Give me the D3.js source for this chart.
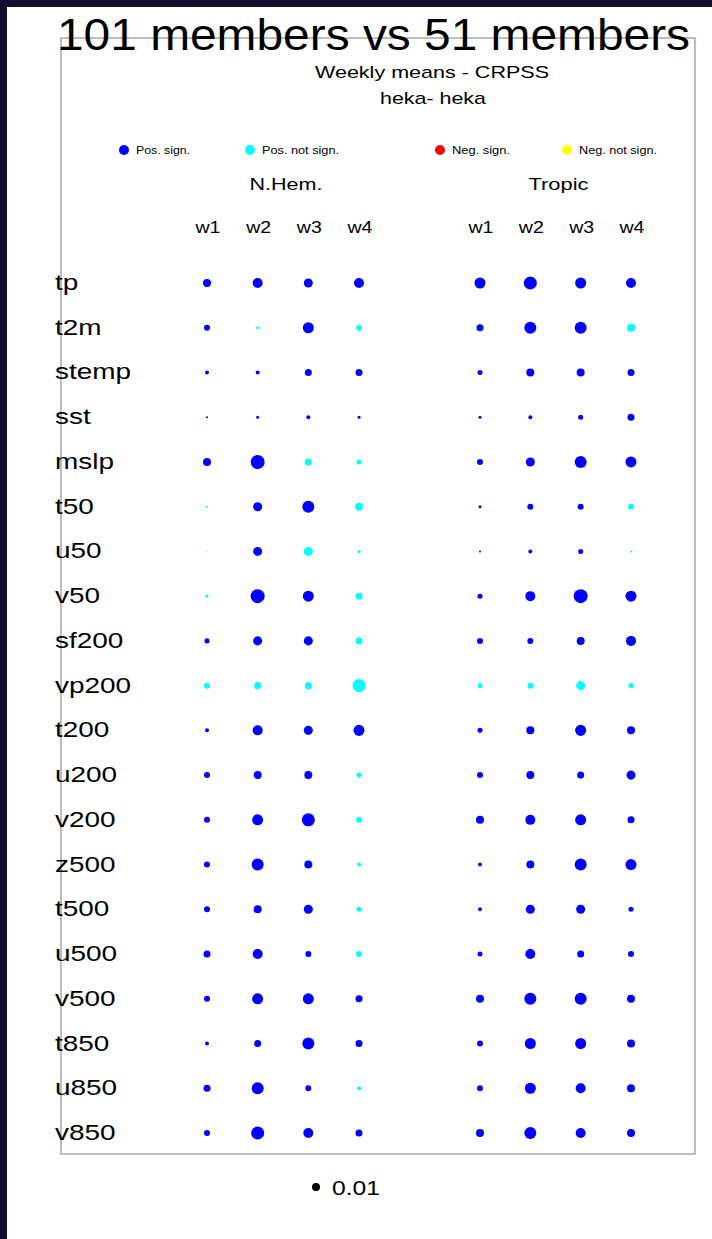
<!DOCTYPE html>
<html>
<head>
<meta charset="utf-8">
<script src="https://cdn.jsdelivr.net/npm/d3@7"></script>
<style>
html,body{margin:0;padding:0;background:#fff;}
svg{display:block;font-family:"Liberation Sans",Arial,sans-serif;}
</style>
</head>
<body>
<svg id="chart" width="712" height="1239"></svg>
<script>
// ---------- data ----------
const variables = ["tp","t2m","stemp","sst","mslp","t50","u50","v50","sf200","vp200","t200","u200","v200","z500","t500","u500","v500","t850","u850","v850"];
const weeks = ["w1","w2","w3","w4"];
const regions = ["N.Hem.","Tropic"];

// CRPSS difference (magnitude), per variable, weeks w1..w4
const nhemValues = [
  [0.0100,0.0125,0.0113,0.0125],
  [0.0075,0.0038,0.0138,0.0075],
  [0.0050,0.0050,0.0088,0.0088],
  [0.0025,0.0038,0.0050,0.0038],
  [0.0100,0.0175,0.0088,0.0063],
  [0.0025,0.0113,0.0150,0.0100],
  [0.0013,0.0113,0.0113,0.0038],
  [0.0038,0.0175,0.0138,0.0088],
  [0.0063,0.0113,0.0113,0.0088],
  [0.0075,0.0088,0.0088,0.0163],
  [0.0050,0.0125,0.0113,0.0138],
  [0.0075,0.0100,0.0100,0.0063],
  [0.0075,0.0138,0.0163,0.0075],
  [0.0075,0.0150,0.0100,0.0050],
  [0.0075,0.0100,0.0113,0.0063],
  [0.0088,0.0125,0.0075,0.0075],
  [0.0075,0.0138,0.0138,0.0088],
  [0.0050,0.0088,0.0150,0.0088],
  [0.0088,0.0150,0.0075,0.0050],
  [0.0075,0.0163,0.0125,0.0088]
];
// 1 = significant (blue), 0 = not significant (cyan)
const nhemSignif = [
  [1,1,1,1],[1,0,1,0],[1,1,1,1],[1,1,1,1],[1,1,0,0],
  [0,1,1,0],[0,1,0,0],[0,1,1,0],[1,1,1,0],[0,0,0,0],
  [1,1,1,1],[1,1,1,0],[1,1,1,0],[1,1,1,0],[1,1,1,0],
  [1,1,1,0],[1,1,1,1],[1,1,1,1],[1,1,1,0],[1,1,1,1]
];
const tropicValues = [
  [0.0138,0.0163,0.0138,0.0125],
  [0.0088,0.0150,0.0150,0.0100],
  [0.0063,0.0100,0.0100,0.0088],
  [0.0038,0.0050,0.0063,0.0088],
  [0.0075,0.0113,0.0150,0.0138],
  [0.0038,0.0075,0.0075,0.0075],
  [0.0025,0.0050,0.0063,0.0025],
  [0.0063,0.0125,0.0175,0.0138],
  [0.0075,0.0075,0.0100,0.0125],
  [0.0063,0.0075,0.0113,0.0063],
  [0.0063,0.0100,0.0138,0.0100],
  [0.0075,0.0100,0.0088,0.0113],
  [0.0100,0.0125,0.0138,0.0088],
  [0.0050,0.0100,0.0150,0.0138],
  [0.0050,0.0113,0.0113,0.0063],
  [0.0063,0.0125,0.0088,0.0075],
  [0.0100,0.0150,0.0150,0.0100],
  [0.0075,0.0138,0.0138,0.0100],
  [0.0075,0.0138,0.0125,0.0100],
  [0.0100,0.0150,0.0125,0.0100]
];
const tropicSignif = [
  [1,1,1,1],[1,1,1,0],[1,1,1,1],[1,1,1,1],[1,1,1,1],
  [1,1,1,0],[1,1,1,0],[1,1,1,1],[1,1,1,1],[0,0,0,0],
  [1,1,1,1],[1,1,1,1],[1,1,1,1],[1,1,1,1],[1,1,1,1],
  [1,1,1,1],[1,1,1,1],[1,1,1,1],[1,1,1,1],[1,1,1,1]
];
const legendLabels = ["Pos. sign.","Pos. not sign.","Neg. sign.","Neg. not sign."];
const legendColors = ["#0000ff","#00ffff","#ff0000","#ffff00"];
const sizeRefValue = 0.01;
const titleText = "101 members vs 51 members";
const subTitle1 = "Weekly means - CRPSS";
const subTitle2 = "heka- heka";

// ---------- drawing ----------
const svg = d3.select("#chart");
// dark frame strips
svg.append("rect").attr("x",0).attr("y",0).attr("width",712).attr("height",7).attr("fill","#12112d");
svg.append("rect").attr("x",0).attr("y",0).attr("width",7).attr("height",1239).attr("fill","#12112d");

// box
svg.append("rect").attr("x",61).attr("y",38).attr("width",634).attr("height",1116)
  .attr("fill","none").attr("stroke","#a8a8a8").attr("stroke-width",1.5);

// title
svg.append("text").attr("x",57).attr("y",50).attr("font-size",45)
  .attr("textLength",633).attr("lengthAdjust","spacingAndGlyphs")
  .attr("fill","#000").text(titleText);
svg.append("text").attr("x",432).attr("y",78).attr("font-size",17).attr("text-anchor","middle")
  .attr("textLength",234).attr("lengthAdjust","spacingAndGlyphs").text(subTitle1);
svg.append("text").attr("x",433).attr("y",104).attr("font-size",17).attr("text-anchor","middle")
  .attr("textLength",106).attr("lengthAdjust","spacingAndGlyphs").text(subTitle2);

// legend (colors)
const legX2 = d3.scaleOrdinal().domain(legendLabels).range([124,250,440,567]);
const leg = svg.append("g").selectAll("g").data(legendLabels).join("g")
  .attr("transform", d => `translate(${legX2(d)},150)`);
leg.append("circle").attr("r",5).attr("fill",(d,i)=>legendColors[i]);
leg.append("text").attr("x",12).attr("y",4).attr("font-size",10.5)
  .attr("textLength",(d,i)=>[54,77,58,78][i]).attr("lengthAdjust","spacingAndGlyphs").text(d=>d);

// scales
const y = d3.scalePoint().domain(variables).range([283,1133]);
const xCols = {
  "N.Hem.": d3.scalePoint().domain(weeks).range([207,359]),
  "Tropic": d3.scalePoint().domain(weeks).range([480,631])
};
const r = d3.scaleLinear().domain([0,sizeRefValue]).range([0,4]);

const regionData = {
  "N.Hem.": {vals:nhemValues, sig:nhemSignif},
  "Tropic": {vals:tropicValues, sig:tropicSignif}
};

regions.forEach(reg => {
  const x = xCols[reg];
  const mid = (x.range()[0]+x.range()[1])/2;
  svg.append("text").attr("x",mid+3).attr("y",190).attr("font-size",17).attr("text-anchor","middle")
    .attr("textLength", reg==="N.Hem."?73:60).attr("lengthAdjust","spacingAndGlyphs").text(reg);
  svg.append("g").selectAll("text").data(weeks).join("text")
    .attr("x", d => x(d)+1).attr("y",233).attr("font-size",17).attr("text-anchor","middle")
    .attr("textLength",25).attr("lengthAdjust","spacingAndGlyphs").text(d=>d);
  const cells = [];
  variables.forEach((v,i) => weeks.forEach((w,j) => {
    cells.push({v, w, val: regionData[reg].vals[i][j], sig: regionData[reg].sig[i][j]});
  }));
  svg.append("g").selectAll("circle").data(cells).join("circle")
    .attr("cx", d => x(d.w)).attr("cy", d => y(d.v))
    .attr("r", d => r(Math.abs(d.val)))
    .attr("fill", d => d.val >= 0 ? (d.sig ? legendColors[0] : legendColors[1]) : (d.sig ? legendColors[2] : legendColors[3]));
});

// row labels
svg.append("g").selectAll("text").data(variables).join("text")
  .attr("x",55).attr("y", d => y(d)+7).attr("font-size",21.5)
  .attr("transform", `translate(55,0) scale(1.3,1) translate(-55,0)`)
  .text(d=>d);

// size legend
svg.append("circle").attr("cx",316).attr("cy",1187).attr("r",r(sizeRefValue)).attr("fill","#000");
svg.append("text").attr("x",332).attr("y",1195).attr("font-size",21)
  .attr("textLength",48).attr("lengthAdjust","spacingAndGlyphs").text(sizeRefValue.toFixed(2));
</script>
</body>
</html>
